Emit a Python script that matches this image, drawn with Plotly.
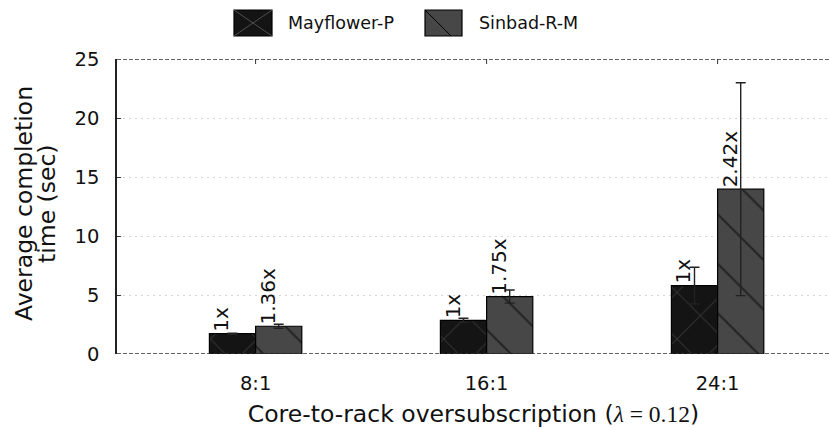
import plotly.graph_objects as go

categories = ["8:1", "16:1", "24:1"]
series_names = ["Mayflower-P", "Sinbad-R-M"]
mayflower_vals = [1.72, 2.85, 5.80]
mayflower_err = [0.05, 0.18, 1.55]
sinbad_vals = [2.35, 4.87, 13.97]
sinbad_err = [0.17, 0.56, 9.02]
mayflower_labels = ["1x", "1x", "1x"]
sinbad_labels = ["1.36x", "1.75x", "2.42x"]
y_ticks = [0, 5, 10, 15, 20, 25]
y_title_lines = ["Average completion", "time (sec)"]

W, H = 830, 430
ML, MR, MT, MB = 117, 0, 59, 76
PW, PH = W - ML - MR, H - MT - MB
FONT = "DejaVu Sans"

def px(x):
    return (x - ML) / PW

def py(y):
    return (H - MB - y) / PH

xs = list(range(len(categories)))
BW = 0.2
XR = [-0.6, (W - MR - ML) / 231 - 0.6]

fig = go.Figure()
fig.add_trace(go.Bar(
    x=xs, y=mayflower_vals, width=BW, offset=-BW, name=series_names[0],
    marker=dict(color="#141414", line=dict(color="#000000", width=1.2),
                pattern=dict(shape="x", size=33, solidity=0.06, fgcolor="#505050")),
    error_y=dict(type="data", array=mayflower_err, color="#222222", thickness=1.4, width=5),
    showlegend=False,
))
fig.add_trace(go.Bar(
    x=xs, y=sinbad_vals, width=BW, offset=0, name=series_names[1],
    marker=dict(color="#474747", line=dict(color="#000000", width=1.2),
                pattern=dict(shape="\\", size=35, solidity=0.06, fgcolor="#000000")),
    error_y=dict(type="data", array=sinbad_err, color="#222222", thickness=1.4, width=5),
    showlegend=False,
))

annotations = []
for i, (v, t) in enumerate(zip(mayflower_vals, mayflower_labels)):
    annotations.append(dict(x=i - BW / 2, y=v, xref="x", yref="y", text=t, textangle=-90,
                            showarrow=False, xanchor="center", yanchor="bottom", xshift=-11,
                            font=dict(family=FONT, size=20, color="#111111")))
for i, (v, t) in enumerate(zip(sinbad_vals, sinbad_labels)):
    annotations.append(dict(x=i + BW / 2, y=v, xref="x", yref="y", text=t, textangle=-90,
                            showarrow=False, xanchor="center", yanchor="bottom", xshift=-11,
                            font=dict(family=FONT, size=20, color="#111111")))

# y-axis title (two tight lines)
for xc, line in zip((24, 47), y_title_lines):
    annotations.append(dict(x=px(xc), y=py(204), xref="paper", yref="paper", text=line, textangle=-90,
                            showarrow=False, xanchor="center", yanchor="middle",
                            font=dict(family=FONT, size=23.5, color="#111111")))

# legend (manual)
annotations.append(dict(x=px(286), y=py(23), xref="paper", yref="paper", text=series_names[0],
                        showarrow=False, xanchor="left", yanchor="middle",
                        font=dict(family=FONT, size=17.5, color="#111111")))
annotations.append(dict(x=px(477), y=py(23), xref="paper", yref="paper", text=series_names[1],
                        showarrow=False, xanchor="left", yanchor="middle",
                        font=dict(family=FONT, size=17.5, color="#111111")))

shapes = []
# dashed top and bottom frame lines
for yv in (0, 25):
    shapes.append(dict(type="line", xref="paper", yref="y", x0=0, x1=1, y0=yv, y1=yv,
                       line=dict(color="#333333", width=1.5, dash="4px,2px"), layer="above"))
# legend swatches
sw = [(234, 272, "#141414"), (425, 462, "#474747")]
for (x0, x1, c) in sw:
    shapes.append(dict(type="rect", xref="paper", yref="paper", x0=px(x0), x1=px(x1),
                       y0=py(36), y1=py(10), fillcolor=c, line=dict(color="#000000", width=1.2)))
shapes.append(dict(type="line", xref="paper", yref="paper", x0=px(234), x1=px(272), y0=py(10), y1=py(36),
                   line=dict(color="#505050", width=1)))
shapes.append(dict(type="line", xref="paper", yref="paper", x0=px(234), x1=px(272), y0=py(36), y1=py(10),
                   line=dict(color="#505050", width=1)))
shapes.append(dict(type="line", xref="paper", yref="paper", x0=px(425), x1=px(451), y0=py(10), y1=py(36),
                   line=dict(color="#000000", width=1)))
# small top ticks at category positions
for xv in xs:
    shapes.append(dict(type="line", xref="x", yref="paper", x0=xv, x1=xv, y0=1, y1=py(MT + 5),
                       line=dict(color="#333333", width=1)))

fig.update_layout(
    width=W, height=H, margin=dict(l=ML, r=MR, t=MT, b=MB),
    paper_bgcolor="white", plot_bgcolor="white",
    barmode="overlay",
    font=dict(family=FONT, size=20, color="#111111"),
    annotations=annotations, shapes=shapes,
    xaxis=dict(range=XR, tickvals=xs, ticktext=categories,
               showgrid=False, zeroline=False, showline=False,
               ticks="", ticklabelstandoff=15,
               tickfont=dict(family=FONT, size=19.5, color="#111111"),
               title=dict(text="Core-to-rack oversubscription (<span style=\"font-family:'Liberation Serif'\"><i>λ</i> = 0.12</span>)",
                          font=dict(family=FONT, size=23.5, color="#111111"), standoff=12)),
    yaxis=dict(range=[0, 25], tickvals=y_ticks, showgrid=True, gridcolor="#d6d6d6", griddash="2px,4px",
               gridwidth=1.2, zeroline=False, showline=True, linecolor="#222222", linewidth=1.5,
               ticks="inside", ticklen=4, tickcolor="#333333", ticklabelstandoff=12,
               tickfont=dict(family=FONT, size=19.5, color="#111111")),
)

fig.write_html("out.html")
